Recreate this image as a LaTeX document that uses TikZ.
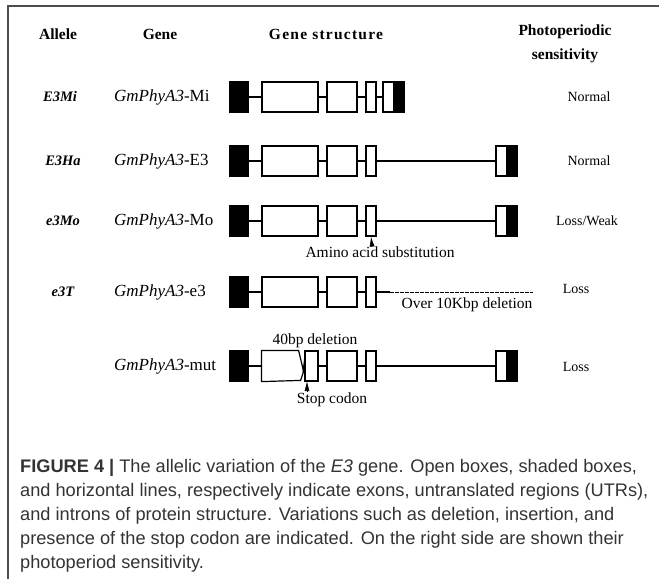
\documentclass[tikz,border=0pt]{standalone}
\usepackage{fontspec}
\setmainfont{Liberation Serif}
\newfontfamily\capfont{Liberation Sans}
\usetikzlibrary{arrows.meta}
\tikzset{
  utr/.style={draw, fill=black, line width=1.2pt, minimum height=30pt, inner sep=0pt},
  exon/.style={draw, fill=white, line width=1.2pt, minimum height=30pt, inner sep=0pt},
  intron/.style={line width=1.2pt},
  hdr/.style={inner sep=0pt, align=center, font=\fontsize{15.5}{24}\selectfont\bfseries},
  lbl/.style={inner sep=0pt, font=\fontsize{15.5}{17}\selectfont},
  gname/.style={inner sep=0pt, anchor=west, font=\fontsize{17}{19}\selectfont},
  phot/.style={inner sep=0pt, font=\fontsize{14}{16}\selectfont},
  allele/.style={inner sep=0pt, font=\fontsize{14.5}{16}\selectfont\bfseries\itshape},
  mutarrow/.style={-{Latex[length=10pt,width=5pt]}, line width=0.6pt}
}
\begin{document}
\begin{tikzpicture}[x=1pt,y=-1pt]
\useasboundingbox (0,0) rectangle (659,579);
\draw[line width=1.2pt, black!70] (8,579) -- (8,6) -- (659,6);

% headers
\node[hdr] (hAllele) at (58,34) {Allele};
\node[hdr] (hGene) at (160,34) {Gene};
\node[hdr] (hStruct) at (326,34) {\addfontfeature{LetterSpace=8}Gene structure};
\node[hdr] (hPhoto) at (565,44) {Photoperiodic\\sensitivity};

% E3Mi
\node[allele] (alMi) at (60,97) {E3Mi};
\node[gname] (geMi) at (114,97) {\textit{GmPhyA3}-Mi};
\node[utr, minimum width=18pt] (UTRMi1) at (239,97) {};
\node[exon, minimum width=56pt] (EXMi1) at (290,97) {};
\node[exon, minimum width=30pt] (EXMi2) at (342,97) {};
\node[exon, minimum width=10pt] (EXMi3) at (371,97) {};
\node[exon, minimum width=11pt] (EXMi4) at (388.5,97) {};
\node[utr, minimum width=10pt] (UTRMi2) at (399,97) {};
\draw[intron] (UTRMi1) -- (EXMi1);
\draw[intron] (EXMi1) -- (EXMi2);
\draw[intron] (EXMi2) -- (EXMi3);
\draw[intron] (EXMi3) -- (EXMi4);
\node[phot] (phMi) at (589,97) {Normal};

% E3Ha
\node[allele] (alHa) at (63,161) {E3Ha};
\node[gname] (geHa) at (114,161) {\textit{GmPhyA3}-E3};
\node[utr, minimum width=18pt] (UTRHa1) at (239,161) {};
\node[exon, minimum width=56pt] (EXHa1) at (290,161) {};
\node[exon, minimum width=30pt] (EXHa2) at (342,161) {};
\node[exon, minimum width=10pt] (EXHa3) at (371,161) {};
\node[exon, minimum width=11pt] (EXHa4) at (501.5,161) {};
\node[utr, minimum width=10pt] (UTRHa2) at (512,161) {};
\draw[intron] (UTRHa1) -- (EXHa1);
\draw[intron] (EXHa1) -- (EXHa2);
\draw[intron] (EXHa2) -- (EXHa3);
\draw[intron] (EXHa3) -- (EXHa4);
\node[phot] (phHa) at (589,161) {Normal};

% e3Mo
\node[allele] (alMo) at (63,221) {e3Mo};
\node[gname] (geMo) at (114,221) {\textit{GmPhyA3}-Mo};
\node[utr, minimum width=18pt] (UTRMo1) at (239,221) {};
\node[exon, minimum width=56pt] (EXMo1) at (290,221) {};
\node[exon, minimum width=30pt] (EXMo2) at (342,221) {};
\node[exon, minimum width=10pt] (EXMo3) at (371,221) {};
\node[exon, minimum width=11pt] (EXMo4) at (501.5,221) {};
\node[utr, minimum width=10pt] (UTRMo2) at (512,221) {};
\draw[intron] (UTRMo1) -- (EXMo1);
\draw[intron] (EXMo1) -- (EXMo2);
\draw[intron] (EXMo2) -- (EXMo3);
\draw[intron] (EXMo3) -- (EXMo4);
\node[lbl] (amMo) at (380,252) {Amino acid substitution};
\coordinate (arMo) at (372,246);
\draw[mutarrow] (arMo) -- (EXMo3.south);
\node[phot] (phMo) at (587,221) {Loss/Weak};

% e3T
\node[allele] (alT) at (63,292) {e3T};
\node[gname] (geT) at (114,292) {\textit{GmPhyA3}-e3};
\node[utr, minimum width=18pt] (UTRT1) at (239,292) {};
\node[exon, minimum width=56pt] (EXT1) at (290,292) {};
\node[exon, minimum width=30pt] (EXT2) at (342,292) {};
\node[exon, minimum width=10pt] (EXT3) at (371,292) {};
\coordinate (DELTa) at (390,292);
\coordinate (DELTb) at (533,292);
\draw[intron] (UTRT1) -- (EXT1);
\draw[intron] (EXT1) -- (EXT2);
\draw[intron] (EXT2) -- (EXT3);
\draw[intron] (EXT3) -- (DELTa);
\draw[line width=1pt, dash pattern=on 3.5pt off 1.5pt] (DELTa) -- (DELTb);
\node[lbl] (dlT) at (467,305) {Over 10Kbp deletion};
\node[phot] (phT) at (576,289) {Loss};

% mut
\node[gname] (geMut) at (114,366) {\textit{GmPhyA3}-mut};
\node[utr, minimum width=18pt] (UTRMut1) at (239,366) {};
\node[exon, draw=none, fill=none, minimum width=36pt] (EXMut1a) at (280,366) {};
\draw[intron] (EXMut1a.north west) -- (EXMut1a.north east) -- ++(5,21) -- ++(-3,9)
  -- (EXMut1a.south west) -- cycle;
\draw[line width=1pt] (303,372) -- (305.5,351);
\node[exon, minimum width=13pt] (EXMut1b) at (311.5,366) {};
\node[exon, minimum width=30pt] (EXMut2) at (342,366) {};
\node[exon, minimum width=10pt] (EXMut3) at (371,366) {};
\node[exon, minimum width=11pt] (EXMut4) at (501.5,366) {};
\node[utr, minimum width=10pt] (UTRMut2) at (512,366) {};
\draw[intron] (UTRMut1) -- (EXMut1a);
\draw[intron] (EXMut1b) -- (EXMut2);
\draw[intron] (EXMut2) -- (EXMut3);
\draw[intron] (EXMut3) -- (EXMut4);
\node[lbl] (dlMut) at (315,341) {40bp deletion};
\node[lbl] (stMut) at (332,400) {Stop codon};
\coordinate (arMut) at (307,391);
\draw[mutarrow] (arMut) -- (307,381);
\node[phot] (phMut) at (576,367) {Loss};

% caption
\node[anchor=base west, inner sep=0pt, align=left, text=black!80,
  font=\capfont\fontsize{18.2}{24}\selectfont] (caption) at (20,568)
 {\textbf{FIGURE 4 |} The allelic variation of the \textit{E3} gene. Open boxes, shaded boxes,\\
  and horizontal lines, respectively indicate exons, untranslated regions (UTRs),\\
  and introns of protein structure. Variations such as deletion, insertion, and\\
  presence of the stop codon are indicated. On the right side are shown their\\
  photoperiod sensitivity.};
\end{tikzpicture}
\end{document}
